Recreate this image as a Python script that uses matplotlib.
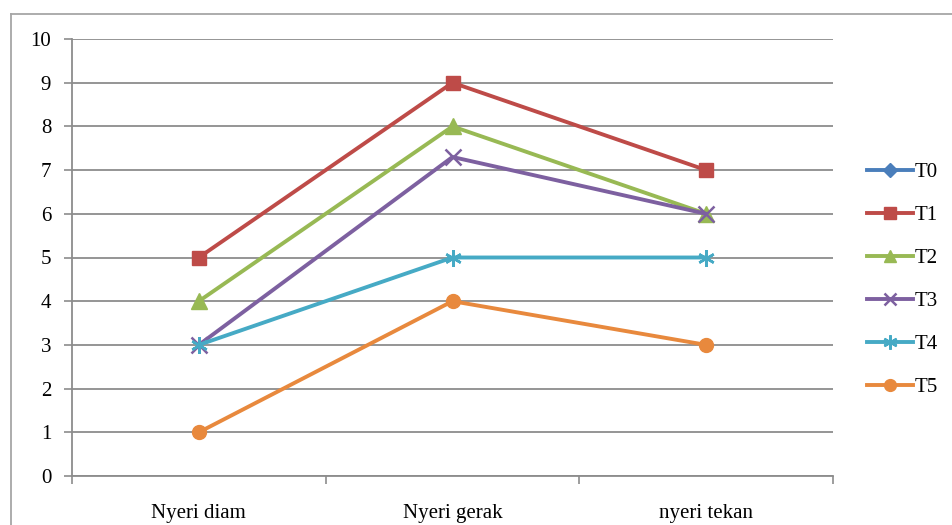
import matplotlib
matplotlib.use("Agg")
import matplotlib.pyplot as plt
import numpy as np
from matplotlib.lines import Line2D

categories = ["Nyeri diam", "Nyeri gerak", "nyeri tekan"]
series_names = ["T0", "T1", "T2", "T3", "T4", "T5"]
t0 = [np.nan, np.nan, np.nan]
t1 = [5, 9, 7]
t2 = [4, 8, 6]
t3 = [3, 7.3, 6]
t4 = [3, 5, 5]
t5 = [1, 4, 3]
yticks = list(range(0, 11))

colors = ["#4A7EBB", "#BE4B48", "#98B954", "#7D60A0", "#46AAC5", "#E8893D"]
markers = ["D", "s", "^", "x", (6, 2, 0), "o"]
msizes = [8, 10, 11, 11, 12, 10]

plt.rcParams['font.family'] = ['Liberation Serif', 'DejaVu Serif']

fig = plt.figure(figsize=(9.53, 5.25), dpi=100)
ax = fig.add_axes([72/953, 49/525, (833-72)/953, (476-39)/525])

x = np.arange(len(categories))
data = [t0, t1, t2, t3, t4, t5]
handles = []
for name, vals, c, m, ms in zip(series_names, data, colors, markers, msizes):
    mew = 1.8 if m in ("x", (6, 2, 0)) else 1
    ax.plot(x, vals, color=c, lw=2.8, marker=m, markersize=ms,
            markeredgecolor=c, markerfacecolor=c, markeredgewidth=mew, zorder=3)
    handles.append(Line2D([0], [0], color=c, lw=2.8, marker=m, markersize=ms * 0.85,
                          markeredgecolor=c, markerfacecolor=c, markeredgewidth=mew))

ax.set_xlim(-0.5, len(categories) - 0.5)
ax.set_ylim(0, 10)
ax.set_yticks(yticks)
ax.set_yticklabels([str(v) for v in yticks], fontsize=15)
ax.set_xticks(x)
ax.set_xticklabels(categories, fontsize=15)
ax.set_xticks(np.arange(-0.5, len(categories)), minor=True)
ax.tick_params(axis='x', which='major', length=0, pad=20)
ax.tick_params(axis='x', which='minor', length=6, color='#8c8c8c', width=1.2)
ax.tick_params(axis='y', length=6, color='#8c8c8c', width=1.2, pad=9)
ax.yaxis.grid(True, color='#8c8c8c', lw=1.3)
ax.set_axisbelow(True)
for s in ['top', 'right']:
    ax.spines[s].set_visible(False)
for s in ['left', 'bottom']:
    ax.spines[s].set_color('#8c8c8c')
    ax.spines[s].set_linewidth(1.3)

leg = fig.legend(handles, series_names, loc='upper left',
                 bbox_to_anchor=(848/953, 1 - 144/525), frameon=False,
                 fontsize=15, handlelength=2.2, handletextpad=0.1,
                 labelspacing=1.12)

# outer border
fig.add_artist(Line2D([11/953, 11/953], [0, 1 - 14/525], color='#a6a6a6', lw=1.3,
                      transform=fig.transFigure))
fig.add_artist(Line2D([11/953, 1], [1 - 14/525, 1 - 14/525], color='#a6a6a6', lw=1.3,
                      transform=fig.transFigure))

fig.savefig("out.png", dpi=100)
